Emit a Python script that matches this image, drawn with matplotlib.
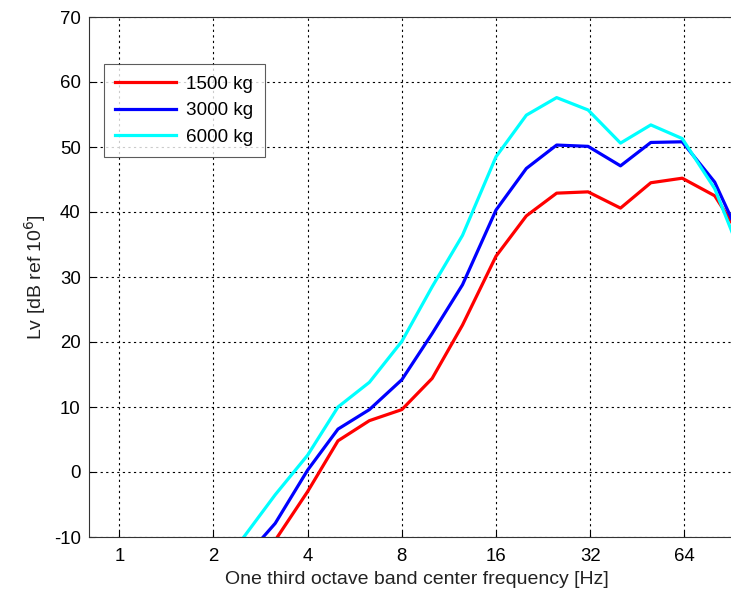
import matplotlib
matplotlib.use("Agg")
import matplotlib.pyplot as plt
import numpy as np

plt.rcParams['font.family'] = ['Liberation Sans', 'DejaVu Sans']
plt.rcParams['axes.unicode_minus'] = False

freqs = [2.5, 3.15, 4, 5, 6.3, 8, 10, 12.5, 16, 20, 25, 31.5, 40, 50, 63, 80, 100]
lv_1500 = [-17.0, -10.5, -3.0, 4.8, 7.9, 9.6, 14.4, 22.6, 33.2, 39.4, 42.9, 43.1, 40.6, 44.5, 45.2, 42.5, 35.2]
lv_3000 = [-13.4, -7.9, 0.3, 6.6, 9.6, 14.2, 21.3, 28.8, 40.3, 46.7, 50.3, 50.1, 47.1, 50.7, 50.8, 44.6, 34.5]
lv_6000 = [-10.0, -3.5, 2.6, 10.0, 13.8, 20.1, 28.5, 36.4, 48.5, 54.9, 57.6, 55.7, 50.6, 53.4, 51.3, 43.6, 31.9]
labels = ['1500 kg', '3000 kg', '6000 kg']
colors = ['#ff0000', '#0000ff', '#00ffff']
xticks = [1, 2, 4, 8, 16, 32, 64]
yticks = list(range(-10, 71, 10))

W, H = 731, 592
fig = plt.figure(figsize=(W/100, H/100), dpi=100)
ax = fig.add_axes([89/W, (H-537)/H, (745-89)/W, (537-17)/H])

for y, lab, c in zip([lv_1500, lv_3000, lv_6000], labels, colors):
    ax.plot(freqs, y, color=c, lw=2.3, label=lab)

ax.set_xscale('log', base=2)
ax.set_xlim(0.8, 100)
ax.set_ylim(-10, 70)
ax.set_xticks(xticks)
ax.set_xticklabels([str(t) for t in xticks])
ax.minorticks_off()
ax.set_yticks(yticks)
ax.grid(True, which='major', color='black', linestyle=(0, (2, 3)), linewidth=0.8)
ax.tick_params(direction='in', labelsize=13.4, length=4, colors='black', pad=6)
ax.tick_params(axis='x', pad=8)
for s in ax.spines.values():
    s.set_color('#333333')
    s.set_linewidth(0.8)

ax.set_xlabel('One third octave band center frequency [Hz]', fontsize=14, color='#222222', labelpad=4)
ax.set_ylabel('Lv [dB ref 10$^6$]', fontsize=14, color='#222222', labelpad=4)

leg = ax.legend(loc='upper left', bbox_to_anchor=((104-89)/(745-89), (537-64)/(537-17)),
                fontsize=13.6, frameon=True, fancybox=False, edgecolor='#333333',
                handlelength=3.2, borderpad=0.6, labelspacing=0.5, handletextpad=0.55,
                borderaxespad=0)
leg.get_frame().set_linewidth(0.8)

fig.savefig('out.png', dpi=100)
